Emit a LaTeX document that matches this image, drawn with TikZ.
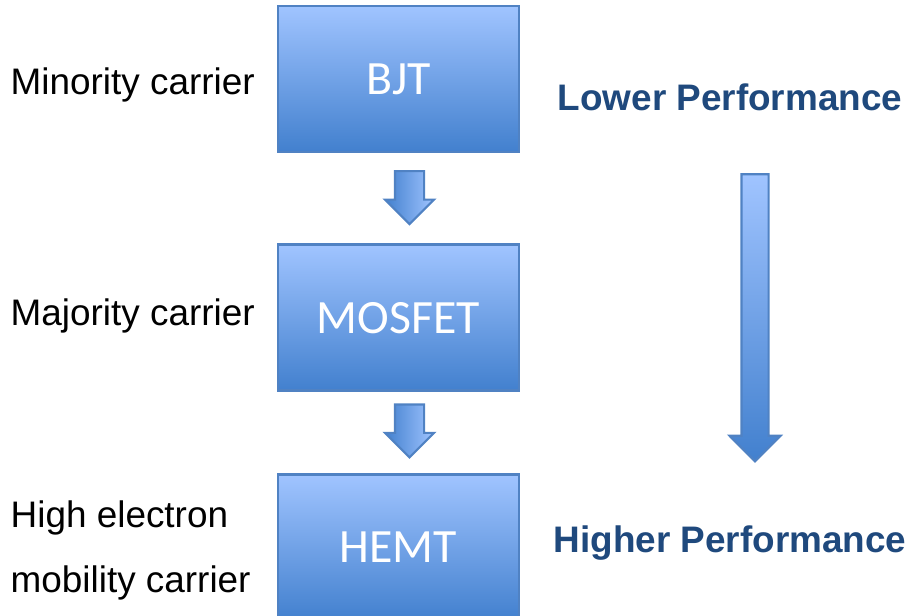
\documentclass[tikz,border=0pt]{standalone}
\usepackage{fontspec}
\setmainfont{Liberation Sans}
\newfontfamily\boxfont{Carlito}
\usetikzlibrary{positioning,shapes.arrows,calc}
\definecolor{boxtop}{RGB}{160,196,255}
\definecolor{boxbottom}{RGB}{66,128,206}
\definecolor{boxedge}{RGB}{80,130,195}
\definecolor{perfblue}{RGB}{31,73,125}

\begin{document}
\begin{tikzpicture}[
  devbox/.style={draw=boxedge, line width=0.8pt, top color=boxtop, bottom color=boxbottom,
    minimum width=2.41cm, minimum height=1.46cm, text=white,
    font=\boxfont\fontsize{13.6}{15}\selectfont},
  sidetext/.style={anchor=base west, inner sep=0pt, font=\fontsize{10.5}{18.5}\selectfont, align=left},
  perftext/.style={anchor=base west, inner sep=0pt, text=perfblue, font=\bfseries\fontsize{10.5}{12}\selectfont},
  steparrow/.style={single arrow, shape border rotate=270, draw=boxedge, line width=0.6pt,
    left color=boxbottom, right color=boxtop, inner sep=0.135cm,
    single arrow head extend=0.1cm, minimum height=0.53cm},
  trendarrow/.style={single arrow, shape border rotate=270, draw=boxedge, line width=0.6pt,
    top color=boxtop, bottom color=boxbottom, inner sep=0.125cm,
    single arrow head extend=0.12cm, minimum height=2.87cm}
]
\useasboundingbox (0,0) rectangle (9.09,-6.16);

% device boxes
\node[devbox] (bjt) at (3.985,-0.79) {BJT};
\node[devbox, below=0.9cm of bjt] (mosfet) {MOSFET};
\node[devbox, below=0.81cm of mosfet] (hemt) {HEMT};

% arrows between the boxes
\node[steparrow, xshift=0.11cm, yshift=0.08cm] (a1) at ($(bjt.south)!0.5!(mosfet.north)$) {};
\node[steparrow, xshift=0.11cm, yshift=0.09cm] (a2) at ($(mosfet.south)!0.5!(hemt.north)$) {};

% carrier type on the left
\node[sidetext] (minority) at (0.10,-0.95) {Minority carrier};
\node[sidetext] (majority) at (0.10,-3.26) {Majority carrier};
\node[sidetext, anchor=west] (hemc) at (0.10,-5.50) {High electron\\mobility carrier};

% performance trend on the right
\node[perftext] (lower) at (5.57,-1.11) {Lower Performance};
\node[trendarrow] (trend) at (7.55,-3.11) {};
\node[perftext] (higher) at (5.53,-5.53) {Higher Performance};
\end{tikzpicture}
\end{document}
